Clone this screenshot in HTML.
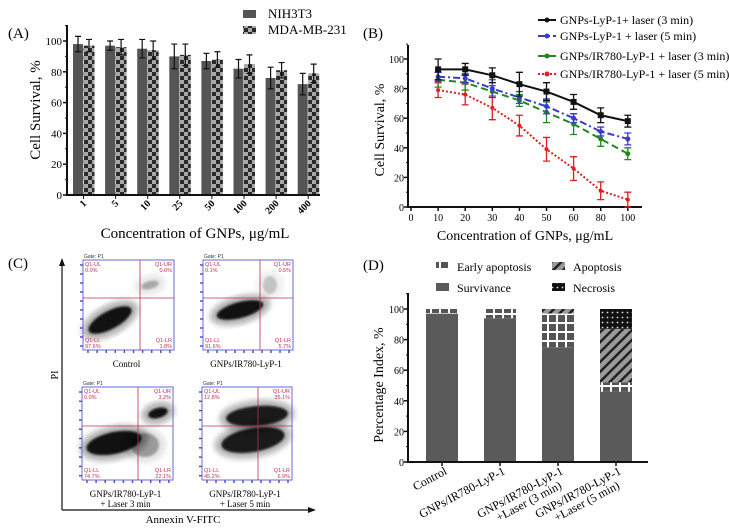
<!DOCTYPE html>
<html><head><meta charset="utf-8">
<style>
html,body{margin:0;padding:0;background:#fff;}
svg{display:block;font-family:"Liberation Serif",serif;}
</style></head>
<body>
<svg id="fig" width="729" height="529" viewBox="0 0 729 529" xmlns="http://www.w3.org/2000/svg">
<defs>
<pattern id="checker" width="8" height="8" patternUnits="userSpaceOnUse">
<rect width="8" height="8" fill="#a8a8a8"/><rect width="4" height="4" fill="#2a2a2a"/><rect x="4" y="4" width="4" height="4" fill="#2a2a2a"/>
</pattern>
<pattern id="grid" width="9" height="9" patternUnits="userSpaceOnUse">
<rect width="9" height="9" fill="#555"/><rect x="0" y="7" width="9" height="2" fill="#fff"/><rect x="7" y="0" width="2" height="9" fill="#fff"/>
</pattern>
<pattern id="diag" width="7" height="7" patternUnits="userSpaceOnUse" patternTransform="rotate(45)">
<rect width="7" height="7" fill="#9a9a9a"/><rect width="2.5" height="7" fill="#222"/>
</pattern>
<pattern id="dots" width="5" height="5" patternUnits="userSpaceOnUse">
<rect width="5" height="5" fill="#111"/><circle cx="2.5" cy="2.5" r="0.9" fill="#ddd"/>
</pattern>
<filter id="blur"><feGaussianBlur stdDeviation="3"/></filter>
<filter id="blur2"><feGaussianBlur stdDeviation="1"/></filter>
</defs>
<g id="pa"></g>
<g id="pb"></g>
<g id="pc"></g>
<g id="pd"></g>
</svg>
<script>
// Panel A data
const aCats = ["1","5","10","25","50","100","200","400"];
const aNIH = [98,97,95,90,87,82,76,72];
const aNIHErr = [5,3,6,8,5,6,7,7];
const aMDA = [97,96,94,91,88,85,81,79];
const aMDAErr = [4,5,6,7,5,6,5,6];
const aYTicks = [0,20,40,60,80,100];
// Panel B data
const bCats = ["10","20","30","40","50","60","80","100"];
const bXLabels = ["0","10","20","30","40","50","60","80","100"];
const bBlack = [93,93,89,83,78,71,62,58];
const bBlackErr = [7,4,5,8,6,5,5,4];
const bBlue = [88,87,80,74,68,60,51,46];
const bBlueErr = [3,3,6,4,5,3,3,4];
const bGreen = [86,84,78,72,64,56,46,36];
const bGreenErr = [5,5,4,4,7,7,5,4];
const bRed = [79,76,67,55,39,26,11,5];
const bRedErr = [5,7,8,7,8,8,6,5];
const bYTicks = [0,20,40,60,80,100];
// Panel D data
const dCats = [["Control"],["GNPs/IR780-LyP-1"],["GNPs/IR780-LyP-1","+Laser (3 min)"],["GNPs/IR780-LyP-1","+Laser (5 min)"]];
const dSurv = [97,94,75,46];
const dEarly = [3,6,22,6];
const dApop = [0,0,3,35];
const dNecr = [0,0,0,13];
const dYTicks = [0,20,40,60,80,100];

const NS="http://www.w3.org/2000/svg";
function mk(parent,tag,attrs,text){const e=document.createElementNS(NS,tag);for(const k in attrs)e.setAttribute(k,attrs[k]);if(text!==undefined)e.textContent=text;parent.appendChild(e);return e;}

// ---------- Panel A ----------
(function(){
const g=document.getElementById('pa');
const x0=67,yA=v=>195-v*1.54;
const gx=i=>73+i*32.1;
let t=mk(g,'text',{x:8,y:38,'font-size':15});t.textContent='(A)';

aCats.forEach((c,i)=>{
 const b1=mk(g,'rect',{x:gx(i),y:yA(aNIH[i]),width:10,height:195-yA(aNIH[i]),fill:'#555'});
 
 const b2=mk(g,'rect',{x:gx(i)+10.5,y:yA(aMDA[i]),width:11,height:195-yA(aMDA[i]),fill:'url(#checker)'});
 
 [[gx(i)+5,aNIH[i],aNIHErr[i]],[gx(i)+16,aMDA[i],aMDAErr[i]]].forEach(([cx,v,e])=>{
  const eb=mk(g,'path',{d:`M${cx} ${yA(v-e)}V${yA(v+e)}M${cx-3} ${yA(v+e)}H${cx+3}M${cx-3} ${yA(v-e)}H${cx+3}`,stroke:'#111','stroke-width':1.2,fill:'none'});
  
 });
 mk(g,'line',{x1:gx(i)+10.5,x2:gx(i)+10.5,y1:195,y2:199,stroke:'#111'});
 const tl=mk(g,'text',{x:gx(i)+14,y:204,'font-size':10,'font-weight':'bold','text-anchor':'end',transform:`rotate(-45 ${gx(i)+14} 204)`},c);
 
});
mk(g,'path',{d:`M${x0} 25V195H320`,stroke:'#111','stroke-width':2,fill:'none'});
aYTicks.forEach(v=>{mk(g,'line',{x1:x0-4,x2:x0,y1:yA(v),y2:yA(v),stroke:'#111','stroke-width':1.5});
 const l=mk(g,'text',{x:x0-5,y:yA(v)+4,'font-size':11,'text-anchor':'end'},v);
 });
for(let v=10;v<=110;v+=20){mk(g,'line',{x1:x0-2,x2:x0,y1:yA(v),y2:yA(v),stroke:'#111'});}
t=mk(g,'text',{x:40,y:110,'font-size':15,'text-anchor':'middle',transform:'rotate(-90 40 110)'},'Cell  Survival, %');

t=mk(g,'text',{x:195,y:238,'font-size':15,'text-anchor':'middle'},'Concentration of GNPs, μg/mL');

let le=mk(g,'g',{});
mk(le,'rect',{x:243,y:10,width:13,height:8,fill:'#555'});mk(le,'text',{x:268,y:18,'font-size':13},'NIH3T3');
le=mk(g,'g',{});
mk(le,'rect',{x:243,y:26,width:13,height:8,fill:'url(#checker)'});mk(le,'text',{x:268,y:34,'font-size':13},'MDA-MB-231');
})();

// ---------- Panel B ----------
(function(){
const g=document.getElementById('pb');
const x0=408,yB=v=>207-v*1.48,xB=i=>411+(i+1)*27.1;
let t=mk(g,'text',{x:363,y:38,'font-size':15},'(B)');

mk(g,'path',{d:`M${x0} 45V207H642`,stroke:'#111','stroke-width':2,fill:'none'});
bYTicks.forEach(v=>{mk(g,'line',{x1:x0-4,x2:x0,y1:yB(v),y2:yB(v),stroke:'#111','stroke-width':1.5});
 const l=mk(g,'text',{x:x0-4,y:yB(v)+4,'font-size':10,'text-anchor':'end'},v);
 });
for(let v=10;v<=110;v+=20){mk(g,'line',{x1:x0-2,x2:x0,y1:yB(v),y2:yB(v),stroke:'#111'});}
bXLabels.forEach((c,i)=>{const x=xB(i-1);mk(g,'line',{x1:x,x2:x,y1:207,y2:211,stroke:'#111','stroke-width':1.5});
 const l=mk(g,'text',{x:x,y:221,'font-size':10,'text-anchor':'middle'},c);
 });
const series=[
 {n:'gnps-lyp-1-laser-3min',v:bBlack,e:bBlackErr,c:'#111',d:'',m:'sq',lab:'GNPs-LyP-1+ laser (3 min)',ly:20},
 {n:'gnps-lyp-1-laser-5min',v:bBlue,e:bBlueErr,c:'#3a3ad0',d:'7 3 2 3',m:'tri',lab:'GNPs-LyP-1 + laser (5 min)',ly:36},
 {n:'gnps-ir780-lyp-1-laser-3min',v:bGreen,e:bGreenErr,c:'#1e8a1e',d:'7 4',m:'tri',lab:'GNPs/IR780-LyP-1 + laser (3 min)',ly:56},
 {n:'gnps-ir780-lyp-1-laser-5min',v:bRed,e:bRedErr,c:'#e02020',d:'2 2',m:'dot',lab:'GNPs/IR780-LyP-1 + laser (5 min)',ly:74}];
series.slice().reverse().forEach(s=>{
 const sg=mk(g,'g',{});
 s.v.forEach((v,i)=>{const x=xB(i),e=s.e[i];
  mk(sg,'path',{d:`M${x} ${yB(v-e)}V${yB(v+e)}M${x-3.5} ${yB(v+e)}H${x+3.5}M${x-3.5} ${yB(v-e)}H${x+3.5}`,stroke:s.c,'stroke-width':1.3,fill:'none'});});
 const pts=s.v.map((v,i)=>`${xB(i)},${yB(v)}`).join(' ');
 const pl=mk(sg,'polyline',{points:pts,fill:'none',stroke:s.c,'stroke-width':2,'stroke-dasharray':s.d});
 
 s.v.forEach((v,i)=>{const x=xB(i),y=yB(v);
  if(s.m==='sq')mk(sg,'rect',{x:x-3,y:y-3,width:6,height:6,fill:s.c});
  else if(s.m==='tri')mk(sg,'circle',{cx:x,cy:y,r:2.5,fill:s.c});
  else mk(sg,'circle',{cx:x,cy:y,r:2,fill:s.c});});
 const le=mk(g,'g',{});
 mk(le,'line',{x1:538,x2:556,y1:s.ly,y2:s.ly,stroke:s.c,'stroke-width':2,'stroke-dasharray':s.d});
 mk(le,'circle',{cx:547,cy:s.ly,r:2.5,fill:s.c});
 mk(le,'text',{x:560,y:s.ly+4,'font-size':12},s.lab);
});
t=mk(g,'text',{x:384,y:130,'font-size':14,'text-anchor':'middle',transform:'rotate(-90 384 130)'},'Cell  Survival, %');

t=mk(g,'text',{x:525,y:240,'font-size':14,'text-anchor':'middle'},'Concentration of GNPs, μg/mL');

})();

// ---------- Panel C ----------
(function(){
const g=document.getElementById('pc');
let t=mk(g,'text',{x:8,y:268,'font-size':15},'(C)');

mk(g,'path',{d:'M62 510V262',stroke:'#111','stroke-width':1.2});
mk(g,'path',{d:'M59 266L62 258L65 266Z',fill:'#111'});
mk(g,'path',{d:'M62 510H312',stroke:'#111','stroke-width':1.2});
mk(g,'path',{d:'M308 507L316 510L308 513Z',fill:'#111'});
t=mk(g,'text',{x:58,y:375,'font-size':10,'text-anchor':'middle',transform:'rotate(-90 58 375)'},'PI');

t=mk(g,'text',{x:183,y:523,'font-size':11,'text-anchor':'middle'},'Annexin V-FITC');

const plots=[
 {n:'control',x:83,y:260,w:91,h:90,vx:140,hy:298,lab:['Control'],q:['0.0%','0.6%','97.6%','1.8%'],
  blobs:[[110,320,24,9,-28,1],[150,285,9,4,-15,0.3]]},
 {n:'gnps-ir780-lyp-1',x:203,y:260,w:90,h:90,vx:260,hy:298,lab:['GNPs/IR780-LyP-1'],q:['0.1%','0.5%','91.6%','5.7%'],
  blobs:[[240,310,24,8,-15,1],[270,285,7,9,0,0.2]]},
 {n:'laser-3min',x:82,y:387,w:91,h:93,vx:138,hy:426,lab:['GNPs/IR780-LyP-1','+ Laser 3 min'],q:['0.0%','3.2%','74.7%','22.1%'],
  blobs:[[114,443,28,11,-12,1],[158,413,10,5,-15,1],[145,445,14,12,0,0.35]]},
 {n:'laser-5min',x:202,y:387,w:90,h:93,vx:258,hy:426,lab:['GNPs/IR780-LyP-1','+ Laser 5 min'],q:['12.8%','35.1%','45.2%','6.9%'],
  blobs:[[253,440,32,12,-10,0.95],[257,416,31,10,-5,0.95]]}];
plots.forEach(p=>{
 const pg=mk(g,'g',{});
 p.blobs.forEach(b=>{mk(pg,'ellipse',{cx:b[0],cy:b[1],rx:b[2]+7,ry:b[3]+6,fill:'#000',opacity:0.3*b[5],transform:`rotate(${b[4]} ${b[0]} ${b[1]})`,filter:'url(#blur)'});
  mk(pg,'ellipse',{cx:b[0],cy:b[1],rx:b[2],ry:b[3],fill:'#000',opacity:0.9*b[5],transform:`rotate(${b[4]} ${b[0]} ${b[1]})`,filter:'url(#blur2)'});});
 mk(pg,'rect',{x:p.x,y:p.y,width:p.w,height:p.h,fill:'none',stroke:'#6a6ad8','stroke-width':1});
 mk(pg,'line',{x1:p.vx,x2:p.vx,y1:p.y,y2:p.y+p.h,stroke:'#c03050','stroke-width':0.8});
 mk(pg,'line',{x1:p.x,x2:p.x+p.w,y1:p.hy,y2:p.hy,stroke:'#c03050','stroke-width':0.8});
 for(let k=0;k<10;k++){mk(pg,'line',{x1:p.x-3,x2:p.x,y1:p.y+5+k*p.h/10,y2:p.y+5+k*p.h/10,stroke:'#5050d0','stroke-width':1.5});
  mk(pg,'line',{x1:p.x+5+k*p.w/10,x2:p.x+5+k*p.w/10,y1:p.y+p.h,y2:p.y+p.h+3,stroke:'#5050d0','stroke-width':1.5});}
 mk(pg,'text',{x:p.x+1,y:p.y-2,'font-size':5,'font-family':'Liberation Sans,sans-serif',fill:'#333'},'Gate: P1');
 const qs=[[p.x+2,p.y+6,'start','Q1-UL'],[p.x+p.w-2,p.y+6,'end','Q1-UR'],[p.x+2,p.y+p.h-8,'start','Q1-LL'],[p.x+p.w-2,p.y+p.h-8,'end','Q1-LR']];
 qs.forEach((q,k)=>{mk(pg,'text',{x:q[0],y:q[1],'font-size':5.5,'text-anchor':q[2],fill:'#c03050','font-family':'Liberation Sans,sans-serif'},q[3]);
  mk(pg,'text',{x:q[0],y:q[1]+6,'font-size':5.5,'text-anchor':q[2],fill:'#c03050','font-family':'Liberation Sans,sans-serif'},p.q[k]);});
 p.lab.forEach((l,k)=>{const tx=mk(pg,'text',{x:p.x+p.w/2-2,y:p.y+p.h+17+k*10,'font-size':9,'text-anchor':'middle'},l);
  });
});
})();

// ---------- Panel D ----------
(function(){
const g=document.getElementById('pd');
const x0=408,yD=v=>462-v*1.53,bx=i=>426+i*58,bw=32;
let t=mk(g,'text',{x:363,y:270,'font-size':15},'(D)');

dCats.forEach((c,i)=>{
 let base=0;
 const segs=[[dSurv[i],'#5a5a5a','survivance'],[dEarly[i],'url(#grid)','early-apoptosis'],[dApop[i],'url(#diag)','apoptosis'],[dNecr[i],'url(#dots)','necrosis']];
 segs.forEach(s=>{if(s[0]>0){const r=mk(g,'rect',{x:bx(i),y:yD(base+s[0]),width:bw,height:s[0]*1.53,fill:s[1]});
  }base+=s[0];});
 mk(g,'line',{x1:bx(i)+bw/2,x2:bx(i)+bw/2,y1:462,y2:466,stroke:'#111','stroke-width':1.5});
 const cx=bx(i)+bw/2+4,cy=470;
 const tg=mk(g,'text',{'font-size':12,'text-anchor':'end',transform:`rotate(-28 ${cx} ${cy})`});
 
 c.forEach((line,k)=>{mk(tg,'tspan',{x:cx-(k?8:0),y:cy+k*12+4},line);});
});
mk(g,'path',{d:`M${x0} 293V462H648`,stroke:'#111','stroke-width':2,fill:'none'});
dYTicks.forEach(v=>{mk(g,'line',{x1:x0-4,x2:x0,y1:yD(v),y2:yD(v),stroke:'#111','stroke-width':1.5});
 const l=mk(g,'text',{x:x0-4,y:yD(v)+4,'font-size':10,'text-anchor':'end'},v);
 });
for(let v=10;v<=110;v+=20){mk(g,'line',{x1:x0-2,x2:x0,y1:yD(v),y2:yD(v),stroke:'#111'});}
t=mk(g,'text',{x:383,y:385,'font-size':14,'text-anchor':'middle',transform:'rotate(-90 383 385)'},'Percentage Index, %');

const leg=[[436,262,'url(#grid)','Early apoptosis','early-apoptosis'],[552,262,'url(#diag)','Apoptosis','apoptosis'],[436,283,'#5a5a5a','Survivance','survivance'],[552,283,'url(#dots)','Necrosis','necrosis']];
leg.forEach(l=>{const le=mk(g,'g',{});
 mk(le,'rect',{x:l[0],y:l[1],width:13,height:8,fill:l[2]});mk(le,'text',{x:l[0]+21,y:l[1]+9,'font-size':12},l[3]);});
})();
</script>
</body></html>
